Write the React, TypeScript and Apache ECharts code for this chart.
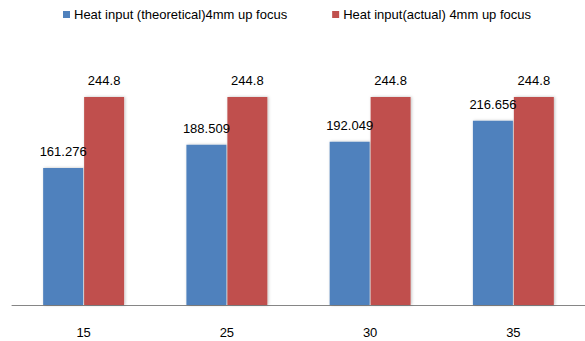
import React, { useEffect, useRef } from "react";
import * as echarts from "echarts";

const categories = ["15", "25", "30", "35"];
const theoretical = [161.276, 188.509, 192.049, 216.656];
const actual = [244.8, 244.8, 244.8, 244.8];
const seriesNames = ["Heat input (theoretical)4mm up focus", "Heat input(actual) 4mm up focus"];

export default function App() {
  const ref = useRef<HTMLDivElement>(null);
  useEffect(() => {
    const chart = echarts.init(ref.current!, null, { renderer: "svg" });
    const font = "Liberation Sans";
    const barStyle = (color: string) => ({
      color,
      shadowColor: "rgba(0,0,0,0.25)",
      shadowBlur: 3,
      shadowOffsetX: 1,
    });
    chart.setOption({
      animation: false,
      textStyle: { fontFamily: font },
      legend: {
        left: 58,
        top: 3,
        itemWidth: 7,
        itemHeight: 7,
        itemGap: 45,
        icon: "rect",
        textStyle: { fontFamily: font, fontSize: 13, color: "#000", padding: [0, 0, 0, -1] },
        data: seriesNames,
      },
      grid: { left: 12, width: 575, top: 50, bottom: 36, containLabel: false },
      xAxis: {
        type: "category",
        data: categories,
        axisLine: { lineStyle: { color: "#868686", width: 1 } },
        axisTick: { show: false },
        axisLabel: { color: "#000", fontSize: 13, margin: 21, fontFamily: font },
      },
      yAxis: {
        type: "value",
        min: 0,
        max: 300,
        show: false,
        splitLine: { show: false },
      },
      series: [
        {
          name: seriesNames[0],
          type: "bar",
          data: theoretical,
          barGap: "2.5%",
          barCategoryGap: "43.5%",
          itemStyle: barStyle("#4F81BD"),
          label: { show: true, position: "top", distance: 10, color: "#000", fontSize: 13, fontFamily: font },
        },
        {
          name: seriesNames[1],
          type: "bar",
          data: actual,
          barGap: "2.5%",
          barCategoryGap: "43.5%",
          itemStyle: barStyle("#C0504D"),
          label: { show: true, position: "top", distance: 10, color: "#000", fontSize: 13, fontFamily: font },
        },
      ],
    });
    return () => chart.dispose();
  }, []);
  return (
    <div
      ref={ref}
      style={{ position: "absolute", left: 0, top: 0, width: 585, height: 341, background: "#fff" }}
    />
  );
}
